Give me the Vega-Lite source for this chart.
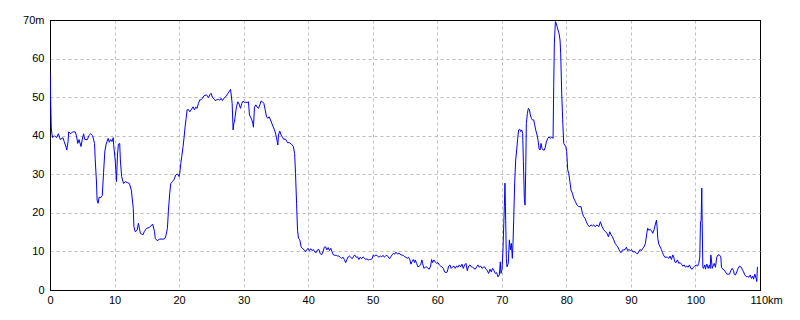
{
  "$schema": "https://vega.github.io/schema/vega-lite/v6.json",
  "width": 710,
  "height": 270,
  "autosize": {"type": "none"},
  "padding": {"left": 50, "top": 20, "right": 40, "bottom": 30},
  "background": "#ffffff",
  "config": {
    "view": {"stroke": "#000000", "strokeWidth": 1},
    "axis": {
      "labelFont": "Liberation Sans",
      "labelFontSize": 11,
      "labelColor": "#000000",
      "domainColor": "#000000",
      "ticks": false,
      "gridWidth": 1,
      "title": null
    }
  },
  "data": {
    "values": [
      {"km": 0, "m": 56.2}, {"km": 0.1, "m": 49.5}, {"km": 0.2, "m": 42}, {"km": 0.3, "m": 40.5}, {"km": 0.4, "m": 39.5},
      {"km": 0.7, "m": 40}, {"km": 1.0, "m": 39.5}, {"km": 1.3, "m": 40.5}, {"km": 1.6, "m": 39}, {"km": 2.0, "m": 39.5},
      {"km": 2.2, "m": 38.5}, {"km": 2.5, "m": 37}, {"km": 2.6, "m": 36.3}, {"km": 2.8, "m": 38.5}, {"km": 2.9, "m": 41},
      {"km": 3.2, "m": 40.5}, {"km": 3.5, "m": 41}, {"km": 3.9, "m": 41}, {"km": 4.1, "m": 40}, {"km": 4.3, "m": 38},
      {"km": 4.5, "m": 39}, {"km": 4.8, "m": 37.2}, {"km": 5.0, "m": 39}, {"km": 5.2, "m": 40.5}, {"km": 5.4, "m": 39},
      {"km": 5.8, "m": 39}, {"km": 6.0, "m": 40}, {"km": 6.3, "m": 40.5}, {"km": 6.6, "m": 40}, {"km": 6.9, "m": 38},
      {"km": 7.0, "m": 34}, {"km": 7.2, "m": 28}, {"km": 7.3, "m": 23.3}, {"km": 7.45, "m": 22.5}, {"km": 7.6, "m": 24},
      {"km": 7.9, "m": 24}, {"km": 8.1, "m": 24.5}, {"km": 8.3, "m": 30.5}, {"km": 8.5, "m": 36}, {"km": 8.7, "m": 37.8},
      {"km": 9.0, "m": 39.3}, {"km": 9.2, "m": 38.3}, {"km": 9.4, "m": 39}, {"km": 9.6, "m": 38.5}, {"km": 9.8, "m": 39.5},
      {"km": 9.85, "m": 37.8}, {"km": 10.1, "m": 33.7}, {"km": 10.2, "m": 31}, {"km": 10.3, "m": 28.1}, {"km": 10.45, "m": 35},
      {"km": 10.6, "m": 37.8}, {"km": 10.8, "m": 38}, {"km": 10.9, "m": 33.7}, {"km": 11.1, "m": 29.4}, {"km": 11.4, "m": 27.6},
      {"km": 11.65, "m": 28.1}, {"km": 12.06, "m": 27.8}, {"km": 12.3, "m": 27.6}, {"km": 12.6, "m": 25.9}, {"km": 12.9, "m": 21.2},
      {"km": 13.0, "m": 16.4}, {"km": 13.2, "m": 15.1}, {"km": 13.5, "m": 15.5}, {"km": 13.7, "m": 17.3}, {"km": 14.0, "m": 14.7},
      {"km": 14.4, "m": 14.3}, {"km": 14.6, "m": 15.1}, {"km": 14.95, "m": 16}, {"km": 15.4, "m": 16.2}, {"km": 15.9, "m": 17.1},
      {"km": 16.2, "m": 15.1}, {"km": 16.3, "m": 13.4}, {"km": 16.6, "m": 12.8}, {"km": 17.0, "m": 13.2}, {"km": 17.6, "m": 13.2},
      {"km": 17.83, "m": 13.4}, {"km": 17.99, "m": 14.3}, {"km": 18.19, "m": 16.0}, {"km": 18.35, "m": 20.7}, {"km": 18.55, "m": 25.1},
      {"km": 18.71, "m": 27.6}, {"km": 18.97, "m": 28.1}, {"km": 19.23, "m": 28.7}, {"km": 19.48, "m": 29.8}, {"km": 19.74, "m": 30.1},
      {"km": 20.0, "m": 29.4}, {"km": 20.1, "m": 30.2}, {"km": 20.26, "m": 32.8}, {"km": 20.41, "m": 34.6}, {"km": 20.62, "m": 37.2},
      {"km": 20.78, "m": 39.7}, {"km": 20.93, "m": 42.3}, {"km": 21.09, "m": 44.5}, {"km": 21.24, "m": 46.7}, {"km": 21.45, "m": 46.8},
      {"km": 21.65, "m": 46.2}, {"km": 21.86, "m": 46.7}, {"km": 22.17, "m": 47.5}, {"km": 22.38, "m": 46.7}, {"km": 22.58, "m": 47.4},
      {"km": 22.79, "m": 47.1}, {"km": 23.0, "m": 48.4}, {"km": 23.2, "m": 49.3}, {"km": 23.41, "m": 49.3}, {"km": 23.62, "m": 49.7},
      {"km": 23.82, "m": 50.3}, {"km": 24.24, "m": 50.6}, {"km": 24.55, "m": 49.9}, {"km": 24.76, "m": 50.6}, {"km": 24.96, "m": 51.0},
      {"km": 25.17, "m": 49.9}, {"km": 25.48, "m": 49.4}, {"km": 25.58, "m": 49.1}, {"km": 25.84, "m": 49.3}, {"km": 26.1, "m": 49.4},
      {"km": 26.3, "m": 49.2}, {"km": 26.51, "m": 49.7}, {"km": 26.72, "m": 49.1}, {"km": 27.03, "m": 49.9}, {"km": 27.34, "m": 50.3},
      {"km": 27.55, "m": 51.0}, {"km": 27.75, "m": 51.4}, {"km": 27.96, "m": 52.0}, {"km": 28.06, "m": 50.8}, {"km": 28.22, "m": 48.4},
      {"km": 28.37, "m": 41.5}, {"km": 28.48, "m": 43.2}, {"km": 28.58, "m": 43.6}, {"km": 28.68, "m": 44.9}, {"km": 28.89, "m": 47.5},
      {"km": 29.1, "m": 48.8}, {"km": 29.3, "m": 48.2}, {"km": 29.51, "m": 47.1}, {"km": 29.72, "m": 48.4}, {"km": 29.92, "m": 49.0},
      {"km": 30.13, "m": 48.6}, {"km": 30.34, "m": 48.7}, {"km": 30.54, "m": 48.6}, {"km": 30.75, "m": 48.8}, {"km": 30.9, "m": 45.4},
      {"km": 31.06, "m": 44.9}, {"km": 31.27, "m": 44.1}, {"km": 31.42, "m": 43.2}, {"km": 31.52, "m": 42.2}, {"km": 31.68, "m": 47.4},
      {"km": 31.89, "m": 48.0}, {"km": 32.09, "m": 47.4}, {"km": 32.3, "m": 47.1}, {"km": 32.51, "m": 48.0}, {"km": 32.71, "m": 49.0},
      {"km": 32.92, "m": 48.8}, {"km": 33.13, "m": 48.4}, {"km": 33.33, "m": 46.8}, {"km": 33.54, "m": 44.9}, {"km": 33.75, "m": 44.5},
      {"km": 33.95, "m": 44.9}, {"km": 34.16, "m": 44.1}, {"km": 34.37, "m": 43.2}, {"km": 34.57, "m": 42.3}, {"km": 34.78, "m": 41.5},
      {"km": 35.0, "m": 40.2}, {"km": 35.2, "m": 38.5}, {"km": 35.3, "m": 37.6}, {"km": 35.4, "m": 40.2}, {"km": 35.6, "m": 41.2},
      {"km": 35.8, "m": 40.2}, {"km": 36.0, "m": 39.7}, {"km": 36.2, "m": 39.1}, {"km": 36.5, "m": 39.1}, {"km": 36.8, "m": 38.2},
      {"km": 37.1, "m": 38.2}, {"km": 37.4, "m": 37.8}, {"km": 37.7, "m": 37.2}, {"km": 37.9, "m": 35.4}, {"km": 38.04, "m": 30.2},
      {"km": 38.2, "m": 22.5}, {"km": 38.35, "m": 15.5}, {"km": 38.5, "m": 13.4}, {"km": 38.7, "m": 13.0}, {"km": 38.9, "m": 11.2},
      {"km": 39.07, "m": 10.8}, {"km": 39.4, "m": 10.4}, {"km": 39.6, "m": 9.9}, {"km": 39.8, "m": 10.5}, {"km": 40.0, "m": 10.8},
      {"km": 40.2, "m": 10.2}, {"km": 40.4, "m": 10.7}, {"km": 40.6, "m": 10.2}, {"km": 40.8, "m": 10.5}, {"km": 41.0, "m": 9.9},
      {"km": 41.24, "m": 9.7}, {"km": 41.45, "m": 10.4}, {"km": 41.65, "m": 10.5}, {"km": 41.86, "m": 9.5}, {"km": 42.07, "m": 9.1},
      {"km": 42.3, "m": 9.9}, {"km": 42.5, "m": 11.1}, {"km": 42.7, "m": 11.2}, {"km": 42.9, "m": 10.4}, {"km": 43.1, "m": 11.0},
      {"km": 43.3, "m": 10.2}, {"km": 43.5, "m": 10.8}, {"km": 43.7, "m": 9.9}, {"km": 43.9, "m": 9.1}, {"km": 44.1, "m": 9.0},
      {"km": 44.34, "m": 9.0}, {"km": 44.55, "m": 8.8}, {"km": 44.76, "m": 8.8}, {"km": 44.96, "m": 8.5}, {"km": 45.17, "m": 8.2},
      {"km": 45.4, "m": 8.5}, {"km": 45.6, "m": 7.9}, {"km": 45.8, "m": 7.1}, {"km": 46.0, "m": 7.9}, {"km": 46.2, "m": 8.6},
      {"km": 46.4, "m": 8.8}, {"km": 46.6, "m": 8.5}, {"km": 46.8, "m": 8.1}, {"km": 47.0, "m": 8.6}, {"km": 47.2, "m": 9.1},
      {"km": 47.44, "m": 8.5}, {"km": 47.65, "m": 8.6}, {"km": 47.86, "m": 7.9}, {"km": 48.06, "m": 8.5}, {"km": 48.27, "m": 8.1},
      {"km": 48.5, "m": 8.6}, {"km": 48.7, "m": 8.3}, {"km": 48.9, "m": 7.9}, {"km": 49.1, "m": 8.1}, {"km": 49.3, "m": 7.8},
      {"km": 49.5, "m": 7.9}, {"km": 49.7, "m": 7.9}, {"km": 49.9, "m": 8.1}, {"km": 50.1, "m": 9.1}, {"km": 50.3, "m": 8.8},
      {"km": 50.5, "m": 9.1}, {"km": 50.75, "m": 8.8}, {"km": 50.96, "m": 8.5}, {"km": 51.2, "m": 8.8}, {"km": 51.4, "m": 8.6},
      {"km": 51.6, "m": 9.0}, {"km": 51.8, "m": 8.5}, {"km": 52.0, "m": 8.8}, {"km": 52.2, "m": 9.0}, {"km": 52.4, "m": 8.6},
      {"km": 52.6, "m": 8.1}, {"km": 52.8, "m": 8.6}, {"km": 53.0, "m": 9.1}, {"km": 53.2, "m": 9.5}, {"km": 53.4, "m": 9.3},
      {"km": 53.6, "m": 9.8}, {"km": 53.85, "m": 9.3}, {"km": 54.06, "m": 9.5}, {"km": 54.42, "m": 9.1}, {"km": 54.73, "m": 9.0},
      {"km": 54.94, "m": 8.6}, {"km": 55.14, "m": 8.5}, {"km": 55.35, "m": 8.2}, {"km": 55.56, "m": 8.5}, {"km": 55.76, "m": 7.8},
      {"km": 55.92, "m": 6.7}, {"km": 56.07, "m": 7.3}, {"km": 56.28, "m": 7.9}, {"km": 56.49, "m": 7.1}, {"km": 56.59, "m": 7.8},
      {"km": 56.8, "m": 6.9}, {"km": 57.0, "m": 6.0}, {"km": 57.21, "m": 6.2}, {"km": 57.42, "m": 6.5}, {"km": 57.62, "m": 7.8},
      {"km": 57.73, "m": 6.9}, {"km": 57.93, "m": 5.6}, {"km": 58.14, "m": 5.9}, {"km": 58.35, "m": 6.0}, {"km": 58.55, "m": 5.6},
      {"km": 58.76, "m": 5.4}, {"km": 58.97, "m": 6.2}, {"km": 59.12, "m": 7.9}, {"km": 59.28, "m": 7.1}, {"km": 59.48, "m": 7.8},
      {"km": 59.69, "m": 7.3}, {"km": 59.9, "m": 6.9}, {"km": 60.1, "m": 7.1}, {"km": 60.31, "m": 6.5}, {"km": 60.52, "m": 6.2},
      {"km": 60.72, "m": 6.0}, {"km": 60.93, "m": 5.6}, {"km": 61.14, "m": 4.7}, {"km": 61.35, "m": 4.5}, {"km": 61.55, "m": 4.7},
      {"km": 61.76, "m": 6.2}, {"km": 61.97, "m": 6.5}, {"km": 62.17, "m": 5.6}, {"km": 62.38, "m": 6.0}, {"km": 62.59, "m": 6.2},
      {"km": 62.79, "m": 5.6}, {"km": 63.0, "m": 6.2}, {"km": 63.21, "m": 5.9}, {"km": 63.41, "m": 6.5}, {"km": 63.62, "m": 6.0},
      {"km": 63.83, "m": 6.7}, {"km": 64.03, "m": 5.6}, {"km": 64.24, "m": 6.5}, {"km": 64.45, "m": 6.9}, {"km": 64.65, "m": 5.0},
      {"km": 64.86, "m": 6.2}, {"km": 65.07, "m": 6.5}, {"km": 65.27, "m": 6.0}, {"km": 65.48, "m": 5.9}, {"km": 65.69, "m": 5.6},
      {"km": 65.89, "m": 5.4}, {"km": 66.1, "m": 6.0}, {"km": 66.3, "m": 6.5}, {"km": 66.51, "m": 5.9}, {"km": 66.72, "m": 6.2},
      {"km": 66.93, "m": 5.6}, {"km": 67.13, "m": 5.9}, {"km": 67.34, "m": 6.0}, {"km": 67.55, "m": 5.4}, {"km": 67.75, "m": 5.0},
      {"km": 67.96, "m": 4.3}, {"km": 68.17, "m": 5.4}, {"km": 68.37, "m": 4.7}, {"km": 68.58, "m": 5.6}, {"km": 68.79, "m": 5.0},
      {"km": 68.99, "m": 4.3}, {"km": 69.2, "m": 4.5}, {"km": 69.41, "m": 3.4}, {"km": 69.61, "m": 3.9}, {"km": 69.77, "m": 7.3},
      {"km": 69.87, "m": 4.3}, {"km": 70.03, "m": 5.2}, {"km": 70.18, "m": 10.4}, {"km": 70.39, "m": 21.6}, {"km": 70.49, "m": 27.7},
      {"km": 70.6, "m": 18}, {"km": 70.7, "m": 8.2}, {"km": 70.8, "m": 6.0}, {"km": 71.0, "m": 6.9}, {"km": 71.17, "m": 13},
      {"km": 71.32, "m": 10.4}, {"km": 71.48, "m": 12.1}, {"km": 71.63, "m": 8.2}, {"km": 71.73, "m": 12.1}, {"km": 71.84, "m": 18.1},
      {"km": 71.99, "m": 27.7}, {"km": 72.15, "m": 33.7}, {"km": 72.3, "m": 36.3}, {"km": 72.46, "m": 39.3}, {"km": 72.61, "m": 41.5},
      {"km": 72.77, "m": 41.7}, {"km": 72.92, "m": 41.1}, {"km": 73.08, "m": 41.5}, {"km": 73.23, "m": 40.6}, {"km": 73.34, "m": 33.3},
      {"km": 73.49, "m": 23.8}, {"km": 73.6, "m": 22.0}, {"km": 73.7, "m": 30.9}, {"km": 73.8, "m": 43.2}, {"km": 73.96, "m": 45.8},
      {"km": 74.11, "m": 47.1}, {"km": 74.27, "m": 46.8}, {"km": 74.42, "m": 45.4}, {"km": 74.58, "m": 44.5}, {"km": 74.73, "m": 44.1},
      {"km": 74.94, "m": 44.1}, {"km": 75.09, "m": 42.8}, {"km": 75.25, "m": 41.5}, {"km": 75.46, "m": 40.2}, {"km": 75.61, "m": 38.8},
      {"km": 75.77, "m": 36.7}, {"km": 75.92, "m": 36.3}, {"km": 76.08, "m": 38.0}, {"km": 76.23, "m": 36.7}, {"km": 76.39, "m": 36.3},
      {"km": 76.59, "m": 36.3}, {"km": 76.75, "m": 37.1}, {"km": 76.9, "m": 38.4}, {"km": 77.11, "m": 39.3}, {"km": 77.32, "m": 39.7},
      {"km": 77.52, "m": 39.3}, {"km": 77.73, "m": 39.7}, {"km": 77.94, "m": 39.3}, {"km": 78.04, "m": 52.7}, {"km": 78.14, "m": 64},
      {"km": 78.3, "m": 69.6}, {"km": 78.45, "m": 69.1}, {"km": 78.56, "m": 68.3}, {"km": 78.71, "m": 67.4}, {"km": 78.87, "m": 66.5},
      {"km": 79.02, "m": 64.8}, {"km": 79.12, "m": 61.4}, {"km": 79.28, "m": 51.0}, {"km": 79.43, "m": 44.1}, {"km": 79.59, "m": 38.0},
      {"km": 79.74, "m": 37.6}, {"km": 79.9, "m": 37.2}, {"km": 80.05, "m": 35.9}, {"km": 80.21, "m": 31.1}, {"km": 80.36, "m": 30.3},
      {"km": 80.52, "m": 28.5}, {"km": 80.72, "m": 25.9}, {"km": 80.93, "m": 25.1}, {"km": 81.14, "m": 23.8}, {"km": 81.4, "m": 22.9},
      {"km": 81.66, "m": 22.0}, {"km": 81.91, "m": 21.6}, {"km": 82.28, "m": 21.6}, {"km": 82.48, "m": 19.9}, {"km": 82.69, "m": 19.0},
      {"km": 82.9, "m": 18.6}, {"km": 83.1, "m": 17.7}, {"km": 83.31, "m": 16.9}, {"km": 83.57, "m": 16.4}, {"km": 83.83, "m": 16.9},
      {"km": 84.03, "m": 16.6}, {"km": 84.24, "m": 16.9}, {"km": 84.45, "m": 16.4}, {"km": 84.76, "m": 16.9}, {"km": 85.02, "m": 16.4},
      {"km": 85.27, "m": 17.7}, {"km": 85.53, "m": 16.4}, {"km": 85.79, "m": 15.6}, {"km": 86.05, "m": 15.1}, {"km": 86.31, "m": 14.7},
      {"km": 86.52, "m": 13.8}, {"km": 86.72, "m": 15.1}, {"km": 86.93, "m": 14.3}, {"km": 87.14, "m": 13.8}, {"km": 87.34, "m": 13.0},
      {"km": 87.55, "m": 12.1}, {"km": 87.76, "m": 11.6}, {"km": 87.96, "m": 11.2}, {"km": 88.17, "m": 10.4}, {"km": 88.33, "m": 9.9},
      {"km": 88.5, "m": 9.7}, {"km": 88.7, "m": 10.4}, {"km": 88.9, "m": 10.4}, {"km": 89.1, "m": 10.5}, {"km": 89.3, "m": 11.1},
      {"km": 89.5, "m": 10.2}, {"km": 89.7, "m": 10.5}, {"km": 89.9, "m": 10.2}, {"km": 90.1, "m": 10.5}, {"km": 90.3, "m": 9.9},
      {"km": 90.6, "m": 9.9}, {"km": 90.8, "m": 9.7}, {"km": 91.0, "m": 9.3}, {"km": 91.2, "m": 9.9}, {"km": 91.4, "m": 10.5},
      {"km": 91.63, "m": 10.2}, {"km": 91.84, "m": 10.8}, {"km": 92.04, "m": 11.2}, {"km": 92.25, "m": 12.1}, {"km": 92.46, "m": 14.7},
      {"km": 92.6, "m": 16.0}, {"km": 92.77, "m": 15.5}, {"km": 92.97, "m": 15.7}, {"km": 93.18, "m": 15.4}, {"km": 93.39, "m": 14.7},
      {"km": 93.6, "m": 15.7}, {"km": 93.8, "m": 17.1}, {"km": 93.96, "m": 18.1}, {"km": 94.06, "m": 16.4}, {"km": 94.16, "m": 13.4},
      {"km": 94.32, "m": 11.9}, {"km": 94.52, "m": 11.2}, {"km": 94.73, "m": 10.5}, {"km": 94.89, "m": 9.7}, {"km": 95.04, "m": 9.1},
      {"km": 95.25, "m": 8.5}, {"km": 95.45, "m": 8.5}, {"km": 95.66, "m": 8.5}, {"km": 95.87, "m": 8.2}, {"km": 96.07, "m": 8.8},
      {"km": 96.28, "m": 7.9}, {"km": 96.49, "m": 9.1}, {"km": 96.64, "m": 8.5}, {"km": 96.8, "m": 7.3}, {"km": 97.0, "m": 7.1},
      {"km": 97.21, "m": 7.8}, {"km": 97.42, "m": 6.9}, {"km": 97.62, "m": 7.1}, {"km": 97.83, "m": 6.7}, {"km": 98.04, "m": 6.2},
      {"km": 98.25, "m": 6.5}, {"km": 98.45, "m": 5.9}, {"km": 98.66, "m": 6.2}, {"km": 98.87, "m": 5.9}, {"km": 99.07, "m": 6.5},
      {"km": 99.28, "m": 5.6}, {"km": 99.49, "m": 5.4}, {"km": 99.69, "m": 5.9}, {"km": 99.9, "m": 6.2}, {"km": 100.1, "m": 6.5},
      {"km": 100.31, "m": 6.2}, {"km": 100.52, "m": 6.9}, {"km": 100.67, "m": 8.5}, {"km": 100.78, "m": 17.7}, {"km": 100.88, "m": 18.1},
      {"km": 100.98, "m": 26.4}, {"km": 101.04, "m": 18.1}, {"km": 101.14, "m": 6.0}, {"km": 101.24, "m": 5.6}, {"km": 101.45, "m": 6.5},
      {"km": 101.55, "m": 5.4}, {"km": 101.66, "m": 6.2}, {"km": 101.76, "m": 6.7}, {"km": 101.97, "m": 5.6}, {"km": 102.17, "m": 6.5},
      {"km": 102.28, "m": 5.6}, {"km": 102.38, "m": 9.1}, {"km": 102.48, "m": 7.8}, {"km": 102.59, "m": 5.6}, {"km": 102.69, "m": 6.0},
      {"km": 102.9, "m": 6.9}, {"km": 103.1, "m": 5.9}, {"km": 103.3, "m": 8.5}, {"km": 103.5, "m": 9.1}, {"km": 103.7, "m": 9.1},
      {"km": 103.93, "m": 8.6}, {"km": 104.03, "m": 5.9}, {"km": 104.24, "m": 5.4}, {"km": 104.45, "m": 5.2}, {"km": 104.65, "m": 4.7},
      {"km": 104.86, "m": 4.1}, {"km": 105.07, "m": 4.1}, {"km": 105.27, "m": 4.1}, {"km": 105.48, "m": 5.0}, {"km": 105.69, "m": 5.6},
      {"km": 105.9, "m": 5.0}, {"km": 106.0, "m": 4.1}, {"km": 106.2, "m": 3.9}, {"km": 106.4, "m": 4.7}, {"km": 106.62, "m": 5.6},
      {"km": 106.82, "m": 6.2}, {"km": 107.03, "m": 6.0}, {"km": 107.24, "m": 5.4}, {"km": 107.45, "m": 4.7}, {"km": 107.65, "m": 3.9},
      {"km": 107.86, "m": 3.5}, {"km": 108.06, "m": 3.5}, {"km": 108.27, "m": 3.3}, {"km": 108.48, "m": 3.9}, {"km": 108.68, "m": 3.0},
      {"km": 108.89, "m": 3.6}, {"km": 109.0, "m": 2.8}, {"km": 109.2, "m": 4.1}, {"km": 109.4, "m": 3.0}, {"km": 109.5, "m": 2.2},
      {"km": 109.6, "m": 6.0}
    ]
  },
  "mark": {"type": "line", "color": "#0000ff", "strokeWidth": 1, "clip": true},
  "encoding": {
    "x": {
      "field": "km",
      "type": "quantitative",
      "scale": {"domain": [0, 110], "nice": false, "zero": false},
      "axis": {
        "values": [0, 10, 20, 30, 40, 50, 60, 70, 80, 90, 100, 110],
        "labelFlush": false,
        "labelOverlap": false,
        "labelPadding": 4,
        "labelExpr": "datum.value == 110 ? '110km' : datum.label",
        "labelAlign": {"condition": {"test": "datum.value == 110", "value": "left"}, "value": "center"},
        "labelOffset": {"condition": {"test": "datum.value == 110", "value": -10}, "value": 0},
        "gridColor": {"condition": {"test": "datum.value == 110 || datum.value == 0", "value": "#000000"}, "value": "#bdbdbd"},
        "gridDash": {"condition": {"test": "datum.value == 110 || datum.value == 0", "value": []}, "value": [3, 3]}
      }
    },
    "y": {
      "field": "m",
      "type": "quantitative",
      "scale": {"domain": [0, 70], "nice": false},
      "axis": {
        "values": [0, 10, 20, 30, 40, 50, 60, 70],
        "labelPadding": 6,
        "labelOverlap": false,
        "labelExpr": "datum.value == 70 ? '70m' : datum.label",
        "gridColor": {"condition": {"test": "datum.value == 70 || datum.value == 0", "value": "#000000"}, "value": "#bdbdbd"},
        "gridDash": {"condition": {"test": "datum.value == 70 || datum.value == 0", "value": []}, "value": [3, 3]}
      }
    }
  }
}
